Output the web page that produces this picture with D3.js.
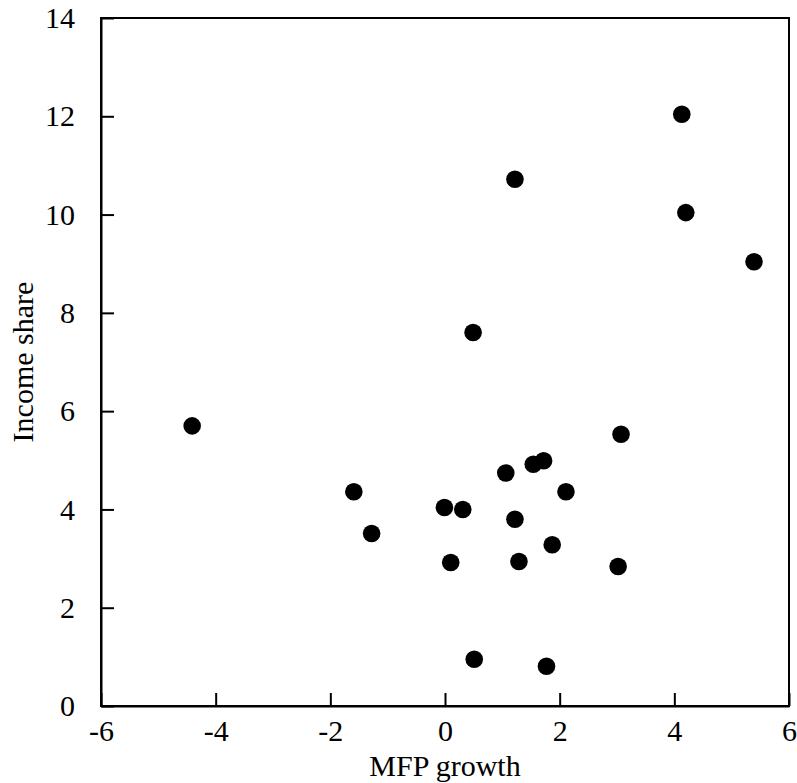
<!DOCTYPE html>
<html lang="en">
  <head>
    <meta charset="utf-8">
    <title>Income share vs MFP growth</title>
    <script src="https://d3js.org/d3.v7.min.js"></script>
    <style>
      body { margin: 0; background: #fff; }
      text { font-family: "Liberation Serif", "Times New Roman", serif; fill: #000; }
    </style>
  </head>
  <body>
    <script>
    // values
    const mfpGrowth = [-4.41, -1.59, -1.28, -0.01, 0.31, 0.10, 0.49, 0.51, 1.06, 1.22,
                       1.22, 1.29, 1.54, 1.72, 1.77, 1.87, 2.11, 3.02, 3.07, 4.13, 4.20, 5.39]
    const incomeShare = [5.70, 4.36, 3.51, 4.04, 4.00, 2.92, 7.60, 0.95, 4.74, 3.80,
                         10.72, 2.94, 4.92, 4.99, 0.81, 3.28, 4.36, 2.84, 5.53, 12.04, 10.04, 9.04]
    const xTicks = [-6, -4, -2, 0, 2, 4, 6]
    const yTicks = [0, 2, 4, 6, 8, 10, 12, 14]

    const points = mfpGrowth.map((x, i) => ({ x: x, y: incomeShare[i] }))

    const size = { width: 797, height: 783 }
    const plot = { left: 101, right: 789, top: 18, bottom: 706 }

    const svg = d3.select('body').append('svg')
        .attr('width', size.width)
        .attr('height', size.height)

    const scaleX = d3.scaleLinear().domain([-6, 6]).range([plot.left, plot.right])
    const scaleY = d3.scaleLinear().domain([0, 14]).range([plot.bottom, plot.top])

    // frame
    svg.append('rect')
        .attr('x', plot.left)
        .attr('y', plot.top)
        .attr('width', plot.right - plot.left)
        .attr('height', plot.bottom - plot.top)
        .attr('fill', 'none')
        .attr('stroke', '#000')
        .attr('stroke-width', 2)

    // axes with inward ticks, plain hyphen for negatives
    const plain = d => String(d)
    const xAxis = d3.axisBottom(scaleX).tickValues(xTicks).tickFormat(plain)
        .tickSizeInner(-13).tickSizeOuter(0).tickPadding(14)
    const yAxis = d3.axisLeft(scaleY).tickValues(yTicks).tickFormat(plain)
        .tickSizeInner(-13).tickSizeOuter(0).tickPadding(26)

    const gx = svg.append('g')
        .attr('transform', `translate(0,${plot.bottom})`)
        .call(xAxis)
    const gy = svg.append('g')
        .attr('transform', `translate(${plot.left},0)`)
        .call(yAxis)

    for (const g of [gx, gy]) {
        g.select('.domain').attr('stroke', '#000').attr('stroke-width', 2)
        g.selectAll('.tick line').attr('stroke', '#000').attr('stroke-width', 2)
        g.selectAll('.tick text')
            .style('font-family', '"Liberation Serif", serif')
            .style('font-size', '30px')
            .attr('fill', '#000')
    }

    // points
    svg.append('g').selectAll('circle')
        .data(points)
        .enter()
        .append('circle')
            .attr('cx', d => scaleX(d.x))
            .attr('cy', d => scaleY(d.y))
            .attr('r', 8.8)
            .attr('fill', '#000')

    // axis titles
    svg.append('text')
        .attr('x', (plot.left + plot.right) / 2)
        .attr('y', 776)
        .style('text-anchor', 'middle')
        .style('font-size', '30px')
        .text('MFP growth')

    svg.append('text')
        .attr('transform', `translate(33,${(plot.top + plot.bottom) / 2}) rotate(-90)`)
        .style('text-anchor', 'middle')
        .style('font-size', '30px')
        .text('Income share')
    </script>
  </body>
</html>
